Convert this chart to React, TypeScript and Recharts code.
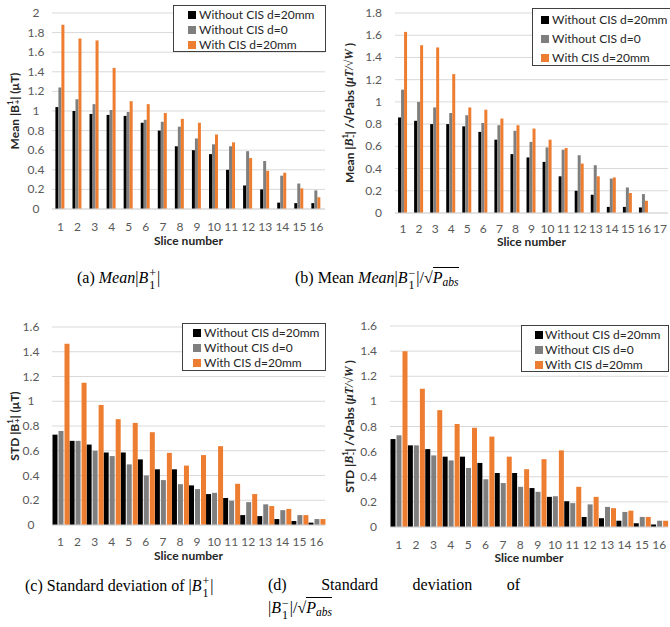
import { BarChart, Bar, XAxis, YAxis, CartesianGrid } from 'recharts';

const slices16 = ['1', '2', '3', '4', '5', '6', '7', '8', '9', '10', '11', '12', '13', '14', '15', '16'];
const slices17 = [...slices16, '17'];

const seriesNames = ['Without CIS d=20mm', 'Without CIS d=0', 'With CIS d=20mm'];
const seriesColors = ['#000000', '#7f7f7f', '#ed7d31'];

// (a) mean |B1+|
const meanPlusNoCis20 = [1.04, 1.0, 0.97, 0.96, 0.95, 0.88, 0.8, 0.64, 0.6, 0.56, 0.4, 0.24, 0.2, 0.065, 0.06, 0.06];
const meanPlusNoCis0 = [1.24, 1.12, 1.07, 1.01, 0.99, 0.91, 0.89, 0.84, 0.72, 0.66, 0.64, 0.59, 0.49, 0.34, 0.26, 0.19];
const meanPlusCis20 = [1.88, 1.74, 1.72, 1.44, 1.1, 1.07, 0.98, 0.92, 0.88, 0.76, 0.68, 0.52, 0.39, 0.37, 0.21, 0.12];

// (b) mean |B1-| / sqrt(Pabs), slice 17 empty
const meanMinusNoCis20 = [0.86, 0.83, 0.8, 0.8, 0.78, 0.73, 0.66, 0.53, 0.5, 0.46, 0.33, 0.2, 0.165, 0.055, 0.055, 0.05, null];
const meanMinusNoCis0 = [1.11, 1.0, 0.95, 0.9, 0.88, 0.81, 0.79, 0.74, 0.64, 0.59, 0.57, 0.52, 0.43, 0.31, 0.23, 0.17, null];
const meanMinusCis20 = [1.63, 1.51, 1.49, 1.25, 0.95, 0.93, 0.85, 0.79, 0.76, 0.66, 0.585, 0.445, 0.33, 0.32, 0.18, 0.11, null];

// (c) std |B1+|
const stdPlusNoCis20 = [0.73, 0.68, 0.65, 0.586, 0.586, 0.53, 0.45, 0.45, 0.32, 0.25, 0.218, 0.08, 0.072, 0.048, 0.032, 0.019];
const stdPlusNoCis0 = [0.76, 0.68, 0.6, 0.557, 0.49, 0.4, 0.363, 0.33, 0.29, 0.26, 0.196, 0.185, 0.167, 0.12, 0.08, 0.048];
const stdPlusCis20 = [1.465, 1.15, 0.97, 0.855, 0.825, 0.75, 0.583, 0.48, 0.565, 0.637, 0.333, 0.25, 0.153, 0.13, 0.08, 0.048];

// (d) std |B1-| / sqrt(Pabs)
const stdMinusNoCis20 = [0.7, 0.65, 0.62, 0.56, 0.56, 0.51, 0.43, 0.43, 0.31, 0.24, 0.205, 0.08, 0.07, 0.05, 0.03, 0.02];
const stdMinusNoCis0 = [0.73, 0.65, 0.57, 0.53, 0.47, 0.38, 0.35, 0.32, 0.28, 0.245, 0.19, 0.18, 0.16, 0.12, 0.08, 0.05];
const stdMinusCis20 = [1.4, 1.1, 0.93, 0.82, 0.79, 0.72, 0.56, 0.46, 0.54, 0.61, 0.32, 0.24, 0.15, 0.13, 0.08, 0.05];

const ticks20 = [0, 0.2, 0.4, 0.6, 0.8, 1, 1.2, 1.4, 1.6, 1.8, 2];
const ticks18 = [0, 0.2, 0.4, 0.6, 0.8, 1, 1.2, 1.4, 1.6, 1.8];
const ticks16 = [0, 0.2, 0.4, 0.6, 0.8, 1, 1.2, 1.4, 1.6];

const font = 'Lato, "Open Sans", sans-serif';
const serif = '"Liberation Serif", "DejaVu Serif", serif';

const rows = (cats, a, b, c) => cats.map((name, i) => ({ name, s0: a[i], s1: b[i], s2: c[i] }));

const makeYTick = (anchor, off) => (props) => (
    <text x={props.x + off} y={props.y} dy={4} textAnchor={anchor} fill="#595959" fontSize={12} fontFamily={font}>
        {props.payload.value}
    </text>
);

const makeXTick = (off) => (props) => (
    <text x={props.x} y={props.y + off} textAnchor="middle" fill="#595959" fontSize={12} fontFamily={font}>
        {props.payload.value}
    </text>
);

const makeXLabel = (off) => (props) => {
    const vb = props.viewBox;
    return (
        <text x={vb.x + vb.width / 2} y={vb.y + off} textAnchor="middle" fill="#262626" fontSize={12} fontWeight="bold" fontFamily={font}>
            Slice number
        </text>
    );
};

const makeYLabel = (head, minus) => (props) => {
    const vb = props.viewBox;
    const cx = 14;
    const cy = vb.y + vb.height / 2;
    return (
        <text
            x={cx}
            y={cy}
            transform={`rotate(-90 ${cx} ${cy})`}
            textAnchor="middle"
            dominantBaseline="central"
            fill="#262626"
            fontSize={12}
            fontWeight="bold"
            fontFamily={font}
        >
            {minus ? (
                <>
                    <tspan>{head} |</tspan>
                    <tspan fontFamily={serif} fontStyle="italic">B</tspan>
                    <tspan dy={-4} fontSize={8}>1</tspan>
                    <tspan dx={-4} dy={7} fontSize={9}>-</tspan>
                    <tspan dy={-3}>| /√Pabs  (</tspan>
                    <tspan fontFamily={serif} fontStyle="italic">μT/√W</tspan>
                    <tspan> )</tspan>
                </>
            ) : (
                <>
                    <tspan>{head} |B</tspan>
                    <tspan dy={-4} fontSize={8}>1</tspan>
                    <tspan dx={-4} dy={7} fontSize={8}>+</tspan>
                    <tspan dy={-3}>| (μT)</tspan>
                </>
            )}
        </text>
    );
};

function LegendBox({ box }) {
    return (
        <div
            style={{
                position: 'absolute',
                left: box.left,
                top: box.top,
                border: '1px solid #404040',
                background: '#fff',
                width: box.width,
                height: box.height,
                boxSizing: 'border-box',
                paddingTop: box.padTop,
                paddingLeft: box.padLeft,
                fontFamily: font,
                fontSize: 12,
                color: '#262626',
                whiteSpace: 'nowrap',
            }}
        >
            {seriesNames.map((n, i) => (
                <div key={n} style={{ height: box.rowH, display: 'flex', alignItems: 'center' }}>
                    <span style={{ display: 'inline-block', width: 8, height: 8, background: seriesColors[i], marginRight: box.gap }} />
                    <span>{n}</span>
                </div>
            ))}
        </div>
    );
}

function Panel({ left, top, data, ticks, margin, yWidth, yTick, xTick, xLabel, yLabel, legend, catGap, barGap }) {
    return (
        <div style={{ position: 'absolute', left, top, width: 335, height: 262 }}>
            <BarChart width={335} height={262} data={data} margin={margin} barCategoryGap={catGap} barGap={barGap}>
                <CartesianGrid vertical={false} stroke="#d9d9d9" />
                <XAxis
                    dataKey="name"
                    height={30}
                    tickLine={false}
                    axisLine={{ stroke: '#d9d9d9' }}
                    tickSize={0}
                    tickMargin={0}
                    interval={0}
                    tick={xTick}
                    label={{ content: xLabel }}
                />
                <YAxis
                    width={yWidth}
                    domain={[ticks[0], ticks[ticks.length - 1]]}
                    ticks={ticks}
                    interval={0}
                    tickLine={false}
                    axisLine={false}
                    tickSize={0}
                    tickMargin={0}
                    tick={yTick}
                    label={{ content: yLabel }}
                />
                {seriesNames.map((n, i) => (
                    <Bar key={n} dataKey={`s${i}`} name={n} fill={seriesColors[i]} isAnimationActive={false} />
                ))}
            </BarChart>
            <LegendBox box={legend} />
        </div>
    );
}

const Scripts = ({ sup, sub }) => (
    <span
        style={{
            display: 'inline-block',
            verticalAlign: '-0.5em',
            lineHeight: 1,
            fontSize: '0.75em',
            fontStyle: 'normal',
            margin: '0 1px',
        }}
    >
        <span style={{ display: 'block' }}>{sup}</span>
        <span style={{ display: 'block' }}>{sub}</span>
    </span>
);

const Sqrt = () => (
    <>
        <span>√</span>
        <span style={{ borderTop: '1px solid #000', paddingTop: 1 }}>
            <i>P</i>
            <i style={{ fontSize: '0.72em', verticalAlign: '-0.3em' }}>abs</i>
        </span>
    </>
);

const capStyle = { position: 'absolute', fontFamily: serif, fontSize: 16, lineHeight: '20px', color: '#000', whiteSpace: 'nowrap' };

export default function App() {
    return (
        <div style={{ position: 'absolute', left: 0, top: 0, width: 670, height: 627, background: '#fff', overflow: 'hidden' }}>
            <Panel
                left={0}
                top={0}
                data={rows(slices16, meanPlusNoCis20, meanPlusNoCis0, meanPlusCis20)}
                ticks={ticks20}
                margin={{ top: 13, right: 10, bottom: 23, left: 0 }}
                yWidth={52}
                yTick={makeYTick('middle', -16)}
                xTick={makeXTick(22)}
                xLabel={makeXLabel(36)}
                yLabel={makeYLabel('Mean', false)}
                legend={{ left: 173, top: 5, width: 153, height: 47, rowH: 15, padTop: 1, padLeft: 14, gap: 3 }}
                catGap="20%"
                barGap={0}
            />
            <Panel
                left={335}
                top={0}
                data={rows(slices17, meanMinusNoCis20, meanMinusNoCis0, meanMinusCis20)}
                ticks={ticks18}
                margin={{ top: 13, right: 2, bottom: 19, left: 0 }}
                yWidth={60}
                yTick={makeYTick('end', -13)}
                xTick={makeXTick(20)}
                xLabel={makeXLabel(33)}
                yLabel={makeYLabel('Mean', true)}
                legend={{ left: 197, top: 8, width: 160, height: 58, rowH: 19, padTop: 1, padLeft: 8, gap: 3 }}
                catGap="19%"
                barGap={0}
            />
            <Panel
                left={0}
                top={310}
                data={rows(slices16, stdPlusNoCis20, stdPlusNoCis0, stdPlusCis20)}
                ticks={ticks16}
                margin={{ top: 17, right: 10, bottom: 17, left: 0 }}
                yWidth={52}
                yTick={makeYTick('middle', -21)}
                xTick={makeXTick(21)}
                xLabel={makeXLabel(35)}
                yLabel={makeYLabel('STD', false)}
                legend={{ left: 182, top: 13, width: 144, height: 48, rowH: 15, padTop: 1, padLeft: 10, gap: 3 }}
                catGap={0.5}
                barGap={1}
            />
            <Panel
                left={335}
                top={310}
                data={rows(slices16, stdMinusNoCis20, stdMinusNoCis0, stdMinusCis20)}
                ticks={ticks16}
                margin={{ top: 16, right: 2, bottom: 15, left: 0 }}
                yWidth={55}
                yTick={makeYTick('end', -13)}
                xTick={makeXTick(22)}
                xLabel={makeXLabel(35)}
                yLabel={makeYLabel('STD', true)}
                legend={{ left: 186, top: 15, width: 148, height: 47, rowH: 15, padTop: 1, padLeft: 13, gap: 2 }}
                catGap={0.5}
                barGap={1}
            />

            <div style={{ ...capStyle, left: 77, top: 267 }}>
                (a) <i>Mean</i>|<i>B</i>
                <Scripts sup="+" sub="1" />|
            </div>
            <div style={{ ...capStyle, left: 295, top: 267 }}>
                (b) Mean <i>Mean</i>|<i>B</i>
                <Scripts sup="−" sub="1" />|/<Sqrt />
            </div>
            <div style={{ ...capStyle, left: 25, top: 575 }}>
                (c) Standard deviation of |<i>B</i>
                <Scripts sup="+" sub="1" />|
            </div>
            <div style={{ ...capStyle, left: 268, top: 575, width: 252, display: 'flex', justifyContent: 'space-between' }}>
                <span>(d)</span>
                <span>Standard</span>
                <span>deviation</span>
                <span>of</span>
            </div>
            <div style={{ ...capStyle, left: 268, top: 597 }}>
                |<i>B</i>
                <Scripts sup="−" sub="1" />|/<Sqrt />
            </div>
        </div>
    );
}
